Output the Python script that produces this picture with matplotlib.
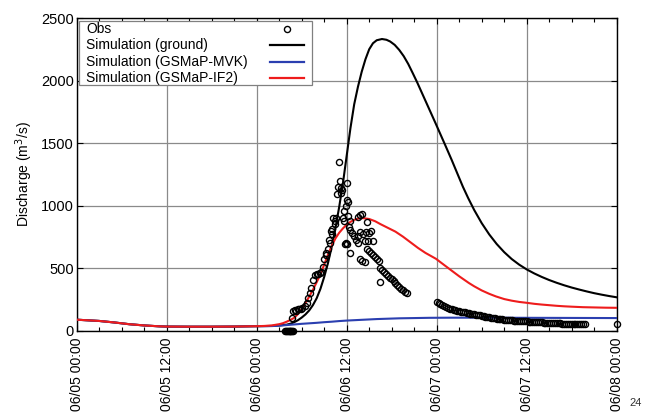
import numpy as np
import matplotlib
matplotlib.use("Agg")
import matplotlib.pyplot as plt
from matplotlib.ticker import MultipleLocator
from matplotlib.patches import Rectangle
from matplotlib.lines import Line2D

plt.rcParams['font.family'] = ['Liberation Sans', 'DejaVu Sans']

# ---------------- data (hours since 06/05 00:00) ----------------
tick_hours = [0, 12, 24, 36, 48, 60, 72]
tick_labels = ["06/05 00:00", "06/05 12:00", "06/06 00:00", "06/06 12:00",
               "06/07 00:00", "06/07 12:00", "06/08 00:00"]

legend_labels = ["Obs", "Simulation (ground)", "Simulation (GSMaP-MVK)", "Simulation (GSMaP-IF2)"]

ground_t = [0, 3, 5, 7, 9, 11, 12, 15, 18, 21, 24, 26, 27, 28, 28.5, 29, 29.5, 30, 30.5, 31,
            31.5, 32, 32.5, 33, 33.5, 34, 34.5, 35, 35.5, 36, 36.5, 37, 37.5, 38, 38.5, 39,
            39.5, 40, 40.7, 41.3, 41.8, 42.4, 43.0, 43.6, 44.2, 44.8, 45.4, 46.0, 46.6, 47.2,
            47.8, 48.5, 49.2, 50.0, 50.8, 51.5, 52.2, 53, 54, 55, 56, 57, 58, 59, 60, 61, 62,
            63, 64, 65, 66, 67, 68, 69, 70, 71, 72]
ground_v = [88, 78, 66, 52, 42, 35, 33, 32, 32, 33, 36, 38, 42, 48, 56, 68, 84, 105, 130, 162,
            205, 260, 335, 430, 540, 670, 820, 990, 1180, 1400, 1620, 1810, 1950, 2070, 2170, 2250,
            2298, 2322, 2332, 2326, 2312, 2285, 2245, 2195, 2133, 2060, 1985, 1905, 1825, 1745,
            1665, 1570, 1475, 1365, 1250, 1150, 1060, 965, 860, 770, 693, 628, 573, 528, 490, 458, 430,
            405, 383, 363, 345, 329, 314, 300, 288, 277, 267]

mvk_t = [0, 3, 5, 7, 9, 11, 12, 15, 18, 21, 24, 25, 26, 27, 28, 29, 30, 31, 32, 33, 34, 35,
         36, 37, 38, 39, 40, 41, 42, 43, 44, 45, 46, 47, 50, 55, 60, 66, 72]
mvk_v = [88, 78, 66, 52, 42, 35, 33, 32, 32, 33, 36, 36, 37, 40, 45, 50, 55, 59, 63, 68, 72, 77,
         81, 84, 87, 90, 93, 95, 97, 99, 100, 101, 102, 103, 104, 104, 103, 102, 101]

if2_t = [0, 3, 5, 7, 9, 11, 12, 15, 18, 21, 24, 25, 26, 27, 27.5, 28, 28.5, 29, 29.5, 30, 30.5,
         31, 31.5, 32, 32.5, 33, 33.5, 34, 34.5, 35, 35.5, 36, 36.5, 37, 37.5, 38.2, 39, 39.8,
         40.5, 41.5, 42.5, 43.5, 44.5, 45.5, 46.5, 47.9, 49, 50, 51, 52.3, 53, 54, 55, 55.9,
         57, 58, 59, 60, 61, 62, 63, 64, 65, 66, 67.5, 69, 70.5, 72]
if2_v = [88, 78, 66, 52, 42, 35, 33, 32, 32, 33, 36, 38, 42, 52, 60, 72, 86, 103, 133, 172, 222,
         272, 328, 388, 450, 528, 608, 678, 738, 783, 818, 848, 870, 886, 896, 900, 893, 875,
         852, 822, 792, 752, 707, 662, 622, 575, 525, 480, 435, 381, 355, 322, 295, 274,
         253, 240, 230, 223, 215, 209, 204, 199, 195, 192, 188, 186, 184, 183]

# observed discharge: scattered points
obs_t = [28.7, 28.9, 29.1, 29.3, 29.5, 29.7, 29.9, 30.1, 30.4, 30.7, 30.9, 31.1, 31.3, 31.5,
         31.8, 32.0, 32.2, 32.4, 32.6, 32.8, 33.0, 33.2, 33.3, 33.5, 33.6, 33.8, 33.9, 34.0,
         34.1, 34.2, 34.4, 34.5, 34.6, 34.7, 34.8, 34.97, 35.1, 35.2, 35.3, 35.4, 35.5, 35.6,
         35.7, 35.8, 35.9, 36.0, 36.1, 36.15, 36.2, 36.4, 36.5, 37.5, 37.8, 38.1, 37.8, 38.0,
         38.4, 37.5, 37.8, 38.2, 38.6, 39.0, 39.2, 38.4, 38.9, 39.5, 38.7, 40.4, 35.9, 36.05, 72.0]
obs_v = [99, 155, 165, 160, 170, 175, 170, 185, 200, 221, 261, 300, 340, 405,
         445, 455, 450, 460, 470, 510, 570, 620, 604, 650, 723, 700, 800, 817,
         770, 899, 880, 850, 905, 1096, 1149, 1346, 1197, 1100, 1144, 1122, 900, 957,
         880, 697, 1000, 1043, 1183, 1029, 920, 620, 880, 910, 923, 930, 575, 560,
         550, 760, 790, 775, 790, 780, 800, 715, 720, 715, 870, 391, 700, 690, 50]

# observed discharge: dense segments
obs_zero_t = [27.75, 27.875, 28.0, 28.125, 28.25, 28.375, 28.5, 28.625, 28.75, 28.875]
obs_zero_v = [0, 0, 0, 0, 0, 0, 0, 0, 0, 0]
seg1_t = [36.25, 36.5, 36.75, 37.0, 37.25, 37.5]
seg1_v = [830, 805, 780, 755, 725, 700]
seg2_t = [38.75, 39.0, 39.25, 39.5, 39.75, 40.0, 40.25, 40.5, 40.75, 41.0, 41.25,
          41.5, 41.75, 42.0, 42.25, 42.5, 42.75, 43.0, 43.25, 43.5, 43.75, 44.0]
seg2_v = [650, 640, 625, 608, 590, 572, 555, 500, 485, 470, 455,
          440, 425, 410, 395, 380, 365, 350, 336, 322, 310, 298]
seg3_t = list(np.arange(48.0, 67.76, 0.25))
seg3_v = [228, 220, 212, 204, 196, 188, 182, 177, 172, 168, 164, 160, 156, 152, 149, 146,
          143, 140, 137, 134, 131, 128, 125, 122, 119, 116, 113, 110, 107, 104, 101, 99,
          97, 95, 93, 91, 89, 87, 85, 83, 82, 81, 80, 79, 78, 77, 76, 75,
          74, 73, 72, 71, 70, 69, 68, 67, 66, 65, 64, 63, 62, 61, 61, 60,
          59, 58, 58, 57, 56, 56, 55, 55, 54, 54, 53, 53, 52, 52, 51, 51]

# ---------------- figure ----------------
W, H = 652, 412
fig = plt.figure(figsize=(W / 100, H / 100), dpi=100)
ax = fig.add_axes([76.7 / W, 1 - 330.7 / H, 540 / W, 312.7 / H])

c_ground, c_mvk, c_if2 = 'black', '#2b3fb0', '#ee1c1c'
ax.plot(ground_t, ground_v, color=c_ground, lw=1.5, zorder=3)
ax.plot(mvk_t, mvk_v, color=c_mvk, lw=1.5, zorder=3)
ax.plot(if2_t, if2_v, color=c_if2, lw=1.5, zorder=4)

MS, MEW = 4.4, 1.0
all_t = obs_t + obs_zero_t + seg1_t + seg2_t + seg3_t
all_v = obs_v + obs_zero_v + seg1_v + seg2_v + seg3_v
ax.plot(all_t, all_v, ls='none', marker='o', ms=MS, mfc='none', mec='black',
        mew=MEW, zorder=5, clip_on=False)

ax.set_xlim(0, 72)
ax.set_ylim(0, 2500)
ax.set_xticks(tick_hours)
ax.set_xticklabels(tick_labels, rotation=90, fontsize=10)
ax.xaxis.set_minor_locator(MultipleLocator(3))
ax.set_yticks([0, 500, 1000, 1500, 2000, 2500])
ax.tick_params(axis='y', labelsize=10.5, pad=2)
ax.tick_params(axis='x', pad=5)
ax.tick_params(which='both', direction='in', top=True, right=True)
ax.tick_params(which='major', length=4, width=0.8)
ax.tick_params(which='minor', length=3, width=0.8)
ax.grid(True, which='major', color='#8a8a8a', lw=0.9)
for s in ax.spines.values():
    s.set_linewidth(1.0)

ax.set_ylabel('Discharge (m$^3$/s)', fontsize=10, labelpad=4)

# ---------------- legend (text left, symbol right) ----------------
def fx(x):
    return x / W

def fy(y):
    return 1 - y / H

fig.add_artist(Rectangle((fx(78.5), fy(85)), fx(312) - fx(78.5), fy(20.5) - fy(85),
                         transform=fig.transFigure, facecolor='white',
                         edgecolor='#808080', lw=0.9, zorder=10))
rows_y = [29.3, 45.3, 61.7, 77.7]
for lab, yy in zip(legend_labels, rows_y):
    fig.text(fx(86), fy(yy), lab, fontsize=10, ha='left', va='center', zorder=11)
fig.add_artist(Line2D([fx(286.7)], [fy(rows_y[0])], transform=fig.transFigure, ls='none',
                      marker='o', ms=MS, mfc='none', mec='black', mew=MEW, zorder=11))
for yy, col in zip(rows_y[1:], [c_ground, c_mvk, c_if2]):
    fig.add_artist(Line2D([fx(270), fx(304)], [fy(yy), fy(yy)], transform=fig.transFigure,
                          color=col, lw=1.6, zorder=11))

fig.text(0.985, 0.01, '24', fontsize=8, color='#333333', ha='right', va='bottom')

fig.savefig('out.png', dpi=100)
